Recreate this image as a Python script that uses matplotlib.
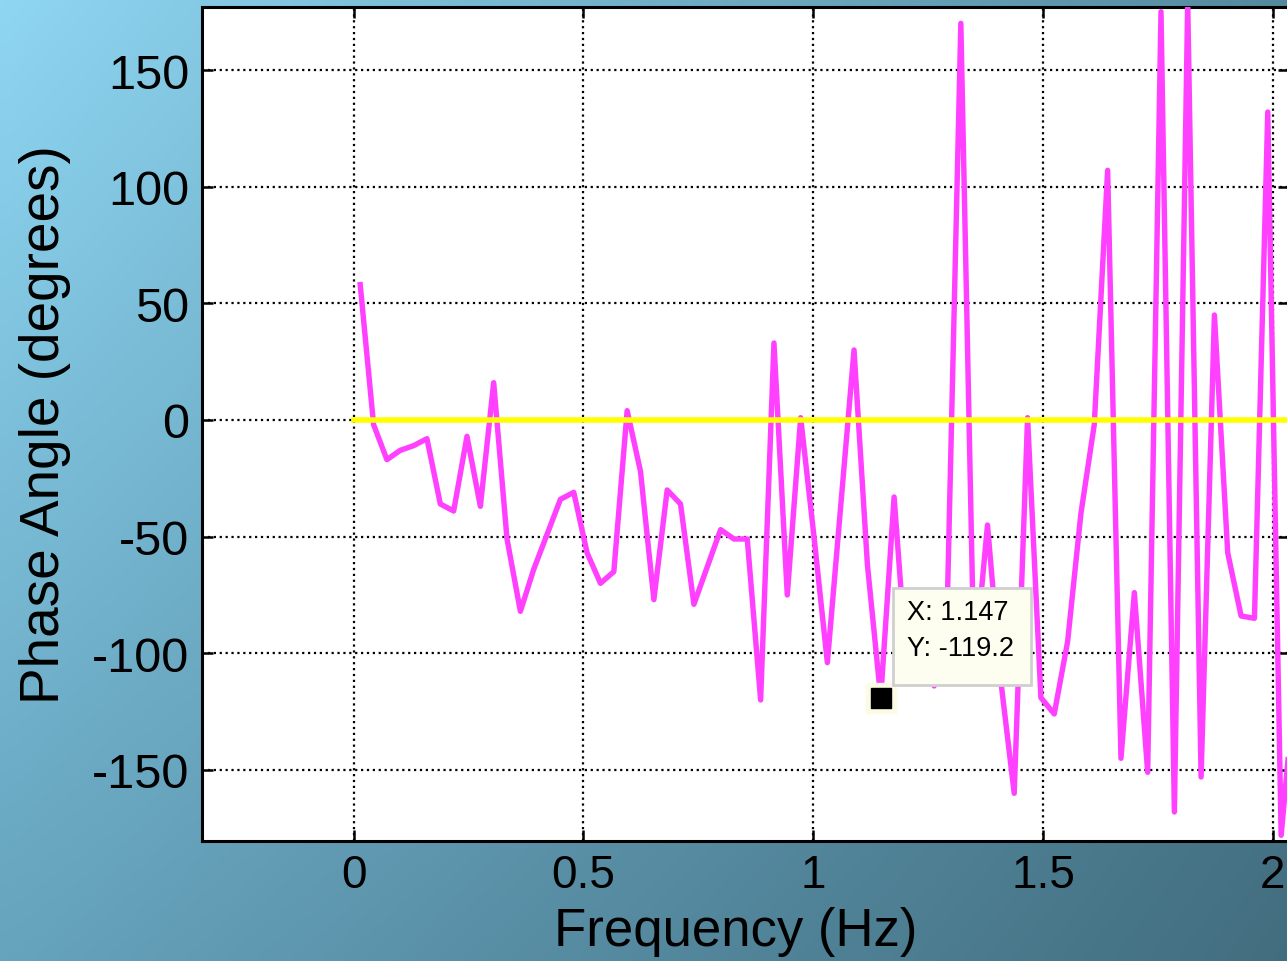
import numpy as np
import matplotlib
matplotlib.use("Agg")
import matplotlib.pyplot as plt
from matplotlib.patches import Rectangle
from matplotlib.transforms import ScaledTranslation

plt.rcParams["font.family"] = ["Liberation Sans", "DejaVu Sans"]
plt.rcParams["axes.unicode_minus"] = False

# Frequency bins (Hz) and phase angle (deg)
freq = [0.0145, 0.0436, 0.0726, 0.1016, 0.1307, 0.1597, 0.1888, 0.2178, 0.2468, 0.2759,
        0.3049, 0.3339, 0.3630, 0.3920, 0.4211, 0.4501, 0.4791, 0.5082, 0.5372, 0.5663,
        0.5953, 0.6243, 0.6534, 0.6824, 0.7114, 0.7405, 0.7695, 0.7986, 0.8276, 0.8566,
        0.8857, 0.9147, 0.9437, 0.9728, 1.0018, 1.0309, 1.0599, 1.0889, 1.1180, 1.1470,
        1.1761, 1.2051, 1.2341, 1.2632, 1.2922, 1.3213, 1.3503, 1.3793, 1.4084, 1.4374,
        1.4665, 1.4955, 1.5245, 1.5536, 1.5826, 1.6116, 1.6407, 1.6697, 1.6988, 1.7278,
        1.7568, 1.7859, 1.8149, 1.8440, 1.8730, 1.9020, 1.9311, 1.9601, 1.9891, 2.0182,
        2.0472]
phase = [58, -2, -17, -13, -11, -8, -36, -39, -7, -37,
         16, -51, -82, -64, -49, -34, -31, -57, -70, -65,
         4, -22, -77, -30, -36, -79, -63, -47, -51, -51,
         -120, 33, -75, 1, -50, -104, -37, 30, -62, -119.2,
         -33, -110, -95, -114, -76, 170, -107, -45, -112, -160,
         1, -119, -126, -95, -40, -2, 107, -145, -74, -151,
         175, -168, 179, -153, 45, -57, -84, -85, 132, -178,
         -115]

zero_x = [0, 2.0472]
zero_y = [0, 0]

tip_x, tip_y = 1.147, -119.2

xticks = [0, 0.5, 1, 1.5, 2]
yticks = [-150, -100, -50, 0, 50, 100, 150]

fig = plt.figure(figsize=(12.87, 9.62), dpi=100)

# backdrop: soft blue gradient
bg = fig.add_axes([0, 0, 1, 1], zorder=-5)
yy, xx = np.mgrid[0:1:96j, 0:1:128j]
tl = np.array([0.56, 0.84, 0.95])
tr = np.array([0.33, 0.54, 0.62])
bl = np.array([0.40, 0.64, 0.74])
br = np.array([0.26, 0.43, 0.50])
img = ((1 - xx)[..., None] * (1 - yy)[..., None] * tl + xx[..., None] * (1 - yy)[..., None] * tr
       + (1 - xx)[..., None] * yy[..., None] * bl + xx[..., None] * yy[..., None] * br)
bg.imshow(img, aspect="auto", extent=[0, 1, 0, 1], origin="upper", interpolation="bicubic")
bg.set_axis_off()

ax = fig.add_axes([0.157, 0.1251, 0.8447, 0.8663])
ax.set_facecolor("white")

ax.plot(freq, phase, color="#ff40ff", lw=3.9, solid_joinstyle="round", zorder=3)
ax.plot(zero_x, zero_y, color="#ffff00", lw=4.0, zorder=4)

ax.set_xlim(-0.3296, 2.0357)
ax.set_ylim(-180.3, 176.9)
ax.set_xticks(xticks)
ax.set_xticklabels(["0", "0.5", "1", "1.5", "2"])
ax.set_yticks(yticks)
ax.grid(True, color="black", linestyle=":", linewidth=1.6)
ax.tick_params(direction="in", length=8, width=1.8, top=True, right=True,
               pad=9, colors="black")
ax.tick_params(axis="x", labelsize=33)
ax.tick_params(axis="y", labelsize=35)
for sp in ax.spines.values():
    sp.set_linewidth(2.2)
    sp.set_color("black")

ax.set_xlabel("Frequency (Hz)", fontsize=38)
ax.set_ylabel("Phase Angle (degrees)", fontsize=39.5)
ax.xaxis.set_label_coords(0.491, -0.078)
ax.yaxis.set_label_coords(-0.121, 0.501)

# data tip on the selected point (box laid out in inches from the point)
tip_tr = fig.dpi_scale_trans + ScaledTranslation(tip_x, tip_y, ax.transData)
ax.plot([tip_x], [tip_y], marker="s", markersize=21.5, color="#fdfbe4", zorder=6, clip_on=False)
ax.plot([tip_x], [tip_y], marker="s", markersize=14.4, color="black", zorder=7, clip_on=False)
ax.add_artist(Rectangle((0.125, 0.13), 1.38, 0.97, transform=tip_tr, fc="#fdfdf0",
                        ec="#cfcfcf", lw=2.0, zorder=8, clip_on=False))
ax.text(0.265, 0.86, f"X: {tip_x:.3f}", transform=tip_tr, ha="left", va="center",
        fontsize=19.5, zorder=9)
ax.text(0.265, 0.50, f"Y: {tip_y:.1f}", transform=tip_tr, ha="left", va="center",
        fontsize=19.5, zorder=9)

fig.savefig("out.png", dpi=100)
